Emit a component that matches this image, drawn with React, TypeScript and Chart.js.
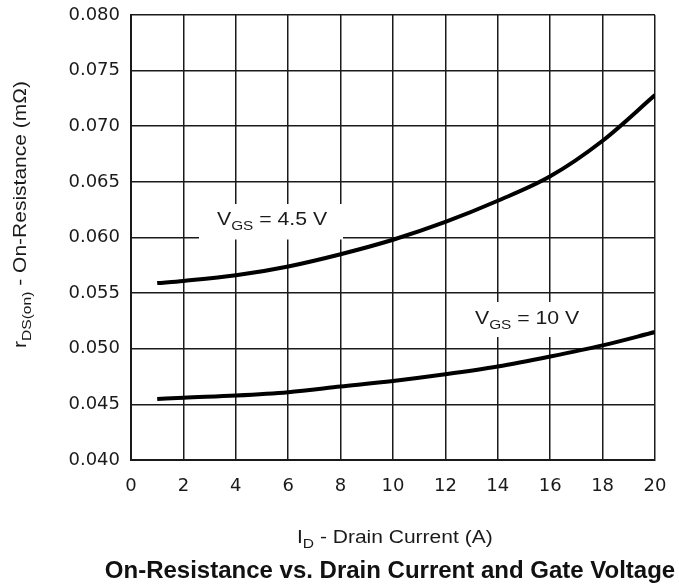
import React, { useEffect, useRef } from "react";
import { Chart, registerables } from "chart.js";

Chart.register(...registerables);

const currentA = [1, 2, 4, 6, 8, 10, 12, 14, 16, 18, 20];
const rdsVgs45 = [0.0559, 0.0561, 0.0566, 0.0574, 0.0585, 0.0598, 0.0614, 0.0633, 0.0655, 0.0687, 0.0728];
const rdsVgs10 = [0.04548, 0.0456, 0.0458, 0.0461, 0.0466, 0.0471, 0.0477, 0.0484, 0.0493, 0.0503, 0.0515];
const xTickStep = 2;
const yTickStep = 0.005;

type Part = { t: string; sub?: boolean };

function drawRich(
  ctx: CanvasRenderingContext2D,
  parts: Part[],
  size: number,
  hscale: number,
  bold = false
) {
  ctx.save();
  ctx.scale(hscale, 1);
  let x = 0;
  for (const p of parts) {
    const fs = p.sub ? Math.round(size * 0.72) : size;
    ctx.font = `${bold ? "bold " : ""}${fs}px "Liberation Sans", Arial, sans-serif`;
    ctx.fillText(p.t, x, p.sub ? size * 0.28 : 0);
    x += ctx.measureText(p.t).width;
  }
  ctx.restore();
}

const textPlugin = {
  id: "textPlugin",
  beforeDatasetsDraw(chart: any) {
    const ctx: CanvasRenderingContext2D = chart.ctx;
    ctx.save();
    ctx.fillStyle = "#ffffff";
    ctx.fillRect(199, 204, 144, 35.5);
    ctx.fillRect(450, 302, 147, 35);
    ctx.fillStyle = "#1a1a1a";
    ctx.textBaseline = "alphabetic";
    ctx.textAlign = "left";
    ctx.save();
    ctx.translate(217, 225);
    drawRich(ctx, [{ t: "V" }, { t: "GS", sub: true }, { t: " = 4.5 V" }], 18, 1.18);
    ctx.restore();
    ctx.save();
    ctx.translate(475, 324);
    drawRich(ctx, [{ t: "V" }, { t: "GS", sub: true }, { t: " = 10 V" }], 18, 1.18);
    ctx.restore();
    ctx.restore();
  },
  afterDraw(chart: any) {
    const ctx: CanvasRenderingContext2D = chart.ctx;
    ctx.save();
    ctx.fillStyle = "#1a1a1a";
    ctx.textBaseline = "alphabetic";
    ctx.textAlign = "left";
    ctx.save();
    ctx.translate(297, 543);
    drawRich(ctx, [{ t: "I" }, { t: "D", sub: true }, { t: " - Drain Current (A)" }], 17.5, 1.2);
    ctx.restore();
    ctx.save();
    ctx.translate(26, 348);
    ctx.rotate(-Math.PI / 2);
    drawRich(ctx, [{ t: "r" }, { t: "DS(on)", sub: true }, { t: " - On-Resistance (m\u03A9)" }], 17.5, 1.2);
    ctx.restore();
    ctx.font = 'bold 24px "Liberation Sans", Arial, sans-serif';
    ctx.textAlign = "center";
    ctx.fillStyle = "#111111";
    ctx.fillText("On-Resistance vs. Drain Current and Gate Voltage", 390, 578);
    ctx.restore();
  },
};

function zeroPad(s: any) {
  s.paddingTop = 0;
  s.paddingBottom = 0;
  s.paddingLeft = 0;
  s.paddingRight = 0;
}

export default function App() {
  const ref = useRef<HTMLCanvasElement>(null);
  useEffect(() => {
    document.body.style.margin = "0";
    const canvas = ref.current!;
    const chart = new Chart(canvas, {
      type: "line",
      data: {
        datasets: [
          {
            label: "VGS = 4.5 V",
            data: currentA.map((x, i) => ({ x, y: rdsVgs45[i] })),
            borderColor: "#000000",
            borderWidth: 4,
            pointRadius: 0,
            cubicInterpolationMode: "monotone",
            fill: false,
          },
          {
            label: "VGS = 10 V",
            data: currentA.map((x, i) => ({ x, y: rdsVgs10[i] })),
            borderColor: "#000000",
            borderWidth: 4,
            pointRadius: 0,
            cubicInterpolationMode: "monotone",
            fill: false,
          },
        ],
      },
      options: {
        animation: false,
        responsive: false,
        devicePixelRatio: 1,
        layout: { padding: { left: 0, right: 24, top: 15, bottom: 0 } },
        plugins: { legend: { display: false }, title: { display: false }, tooltip: { enabled: false } },
        scales: {
          x: {
            type: "linear",
            min: 0,
            max: 20,
            afterFit: (s: any) => {
              s.height = 126;
              zeroPad(s);
            },
            ticks: {
              stepSize: xTickStep,
              color: "#1a1a1a",
              padding: 16,
              maxRotation: 0,
              font: { family: '"DejaVu Sans"', size: 18 },
            },
            grid: { color: "#1a1a1a", lineWidth: 1.5, drawTicks: false },
            border: { color: "#1a1a1a", width: 2 },
          },
          y: {
            type: "linear",
            min: 0.04,
            max: 0.08,
            afterFit: (s: any) => {
              s.width = 131;
              zeroPad(s);
            },
            ticks: {
              stepSize: yTickStep,
              color: "#1a1a1a",
              padding: 11,
              font: { family: '"DejaVu Sans"', size: 18 },
              callback: (v: any) => Number(v).toFixed(3),
            },
            grid: { color: "#1a1a1a", lineWidth: 1.5, drawTicks: false },
            border: { color: "#1a1a1a", width: 2 },
          },
        },
      } as any,
      plugins: [textPlugin],
    });
    return () => chart.destroy();
  }, []);
  return <canvas ref={ref} width={679} height={586} style={{ display: "block" }} />;
}
